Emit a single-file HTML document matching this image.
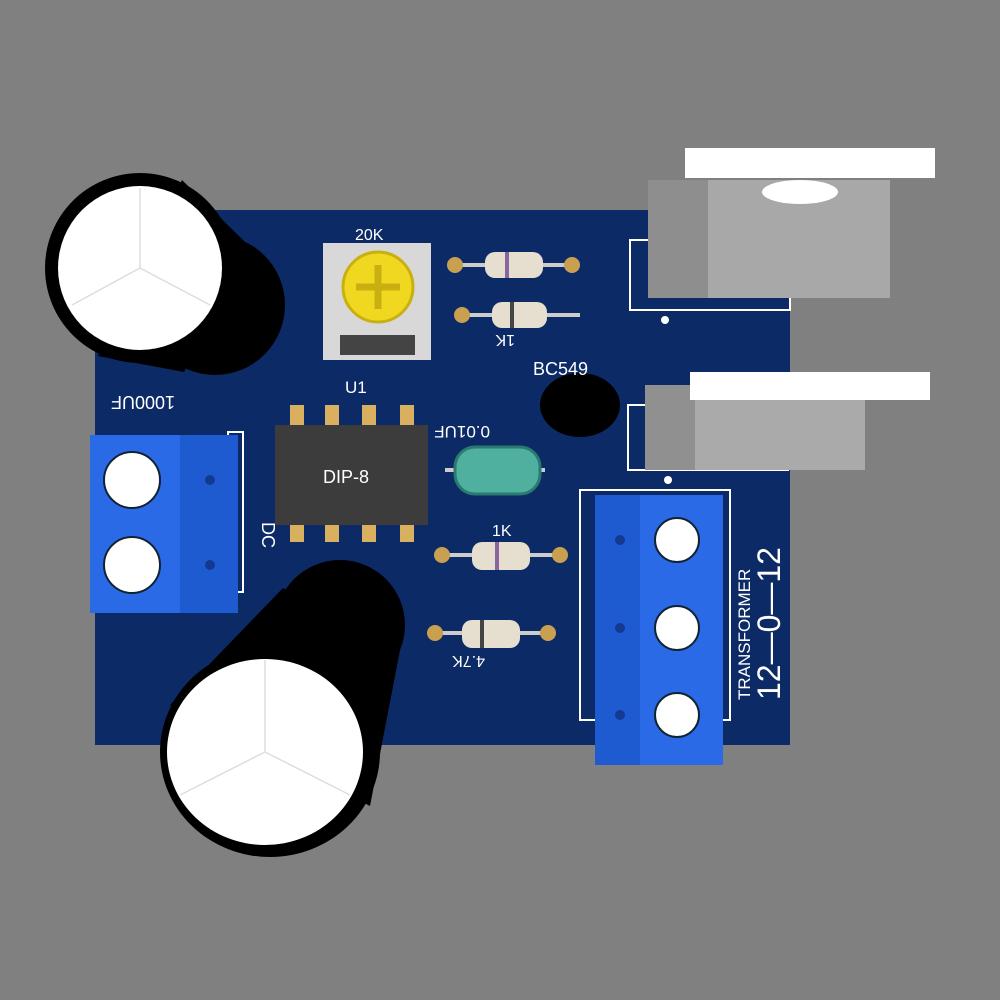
<!DOCTYPE html>
<html><head><style>body{margin:0;background:#808080}svg{display:block}text{font-family:"Liberation Sans",sans-serif;fill:#fff}</style></head><body>
<svg width="1000" height="1000" viewBox="0 0 1000 1000">
<rect width="1000" height="1000" fill="#808080"/>
<polygon points="205,210 645,210 790,210 790,745 95,745 95,300 205,300" fill="#0c2a66"/>
<g stroke="#fff" stroke-width="2" fill="none">
<rect x="630" y="240" width="160" height="70"/>
<rect x="628" y="405" width="160" height="65"/>
<rect x="580" y="490" width="150" height="230"/>
<rect x="228" y="432" width="15" height="160"/>
</g>
<!-- top-left cap -->
<polygon points="182,180 246,243 184,372 98,356" fill="#000"/>
<ellipse cx="215" cy="305" rx="70" ry="70" fill="#000"/>
<ellipse cx="140" cy="268" rx="95" ry="95" fill="#000"/>
<ellipse cx="140" cy="268" rx="82" ry="82" fill="#fff"/>
<path d="M140,268 L140,188 M140,268 L72,305 M140,268 L210,305" stroke="#ddd" stroke-width="1.5"/>
<text x="255" y="408" font-size="18" transform="rotate(180 215 402)">1000UF</text>
<!-- bottom cap -->
<polygon points="170,705 283,588 400,650 370,806" fill="#000"/>
<ellipse cx="340" cy="625" rx="65" ry="65" fill="#000"/>
<ellipse cx="270" cy="752" rx="110" ry="105" fill="#000"/>
<ellipse cx="265" cy="752" rx="98" ry="93" fill="#fff"/>
<path d="M265,752 L265,660 M265,752 L180,795 M265,752 L350,795" stroke="#ddd" stroke-width="1.5"/>
<!-- left terminal -->
<rect x="90" y="435" width="148" height="178" fill="#1e5ad0"/>
<rect x="90" y="435" width="90" height="178" fill="#2a6ae6"/>
<circle cx="132" cy="480" r="28" fill="#fff" stroke="#123" stroke-width="2"/>
<circle cx="132" cy="565" r="28" fill="#fff" stroke="#123" stroke-width="2"/>
<circle cx="210" cy="480" r="5" fill="#123a90"/><circle cx="210" cy="565" r="5" fill="#123a90"/>
<text x="262" y="522" font-size="18" transform="rotate(90 262 522)">DC</text>
<!-- pot -->
<rect x="323" y="243" width="108" height="117" fill="#d8d8d8"/>
<rect x="340" y="335" width="75" height="20" fill="#444"/>
<circle cx="378" cy="287" r="35" fill="#f0d820" stroke="#c9b010" stroke-width="3"/>
<path d="M378,265 v44 M356,287 h44" stroke="#c9b010" stroke-width="7"/>
<text x="355" y="240" font-size="16">20K</text>
<!-- resistors -->
<g>
<line x1="455" y1="265" x2="575" y2="265" stroke="#ccc" stroke-width="4"/><circle cx="455" cy="265" r="8" fill="#c8a050"/><circle cx="572" cy="265" r="8" fill="#c8a050"/>
<rect x="485" y="252" width="58" height="26" rx="10" fill="#e6dfcf"/><rect x="505" y="252" width="4" height="26" fill="#8a66a0"/>
<line x1="460" y1="315" x2="580" y2="315" stroke="#ccc" stroke-width="4"/><circle cx="462" cy="315" r="8" fill="#c8a050"/>
<rect x="492" y="302" width="55" height="26" rx="10" fill="#e6dfcf"/><rect x="510" y="302" width="4" height="26" fill="#444"/>
<text x="525" y="345" font-size="16" transform="rotate(180 520 340)">1K</text>
<line x1="440" y1="555" x2="562" y2="555" stroke="#ccc" stroke-width="4"/><circle cx="442" cy="555" r="8" fill="#c8a050"/><circle cx="560" cy="555" r="8" fill="#c8a050"/>
<rect x="472" y="542" width="58" height="28" rx="10" fill="#e6dfcf"/><rect x="495" y="542" width="4" height="28" fill="#8a66a0"/>
<text x="492" y="536" font-size="16">1K</text>
<line x1="432" y1="633" x2="550" y2="633" stroke="#ccc" stroke-width="4"/><circle cx="435" cy="633" r="8" fill="#c8a050"/><circle cx="548" cy="633" r="8" fill="#c8a050"/>
<rect x="462" y="620" width="58" height="28" rx="10" fill="#e6dfcf"/><rect x="480" y="620" width="4" height="28" fill="#444"/>
<text x="495" y="668" font-size="16" transform="rotate(180 490 662)">4.7K</text>
</g>
<!-- transistor -->
<ellipse cx="580" cy="405" rx="40" ry="32" fill="#000"/>
<text x="533" y="375" font-size="18">BC549</text>
<!-- green cap -->
<text x="500" y="440" font-size="17" transform="rotate(180 495 433)">0.01UF</text>
<line x1="445" y1="470" x2="545" y2="470" stroke="#ccc" stroke-width="4"/>
<rect x="455" y="447" width="85" height="47" rx="20" fill="#4fb0a0" stroke="#2a7a70" stroke-width="3"/>
<!-- DIP -->
<text x="345" y="393" font-size="17">U1</text>
<g fill="#d8b060">
<rect x="290" y="405" width="14" height="22"/><rect x="325" y="405" width="14" height="22"/><rect x="362" y="405" width="14" height="22"/><rect x="400" y="405" width="14" height="22"/>
<rect x="290" y="522" width="14" height="20"/><rect x="325" y="522" width="14" height="20"/><rect x="362" y="522" width="14" height="20"/><rect x="400" y="522" width="14" height="20"/>
</g>
<rect x="275" y="425" width="153" height="100" fill="#3c3c3c"/>
<text x="323" y="483" font-size="18">DIP-8</text>
<!-- regulators -->
<rect x="648" y="180" width="242" height="118" fill="#a8a8a8"/>
<rect x="648" y="180" width="60" height="118" fill="#8e8e8e"/>
<rect x="685" y="148" width="250" height="30" fill="#fff"/>
<ellipse cx="800" cy="192" rx="38" ry="12" fill="#fff"/>
<rect x="645" y="385" width="220" height="85" fill="#aaa"/>
<rect x="645" y="385" width="50" height="85" fill="#909090"/>
<rect x="690" y="372" width="240" height="28" fill="#fff"/>
<circle cx="665" cy="320" r="4" fill="#fff"/><circle cx="668" cy="480" r="4" fill="#fff"/>
<!-- right terminal -->
<rect x="595" y="495" width="128" height="270" fill="#1e5ad0"/>
<rect x="640" y="495" width="83" height="270" fill="#2a6ae6"/>
<circle cx="677" cy="540" r="22" fill="#fff" stroke="#123" stroke-width="2"/>
<circle cx="677" cy="628" r="22" fill="#fff" stroke="#123" stroke-width="2"/>
<circle cx="677" cy="715" r="22" fill="#fff" stroke="#123" stroke-width="2"/>
<circle cx="620" cy="540" r="5" fill="#123a90"/><circle cx="620" cy="628" r="5" fill="#123a90"/><circle cx="620" cy="715" r="5" fill="#123a90"/>
<text x="750" y="700" font-size="17" transform="rotate(-90 750 700)">TRANSFORMER</text>
<text x="780" y="700" font-size="32" transform="rotate(-90 780 700)">12—0—12</text>
</svg>
</body></html>
